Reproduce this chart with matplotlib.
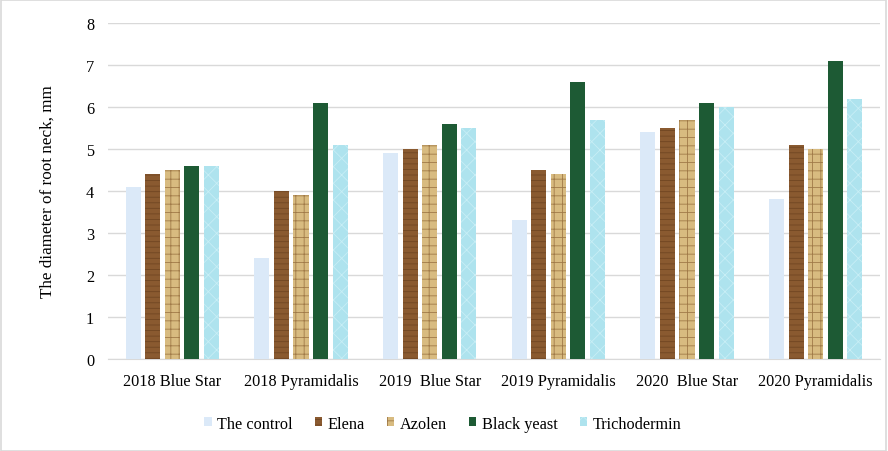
import numpy as np
import matplotlib
matplotlib.use("Agg")
import matplotlib.pyplot as plt
from matplotlib.patches import Rectangle

plt.rcParams['font.family'] = ['Liberation Serif', 'DejaVu Serif']
plt.rcParams['hatch.linewidth'] = 0.6

groups = ['2018 Blue Star', '2018 Pyramidalis', '2019  Blue Star',
          '2019 Pyramidalis', '2020  Blue Star', '2020 Pyramidalis']
series = ['The control', 'Elena', 'Azolen', 'Black yeast', 'Trichodermin']
control = [4.1, 2.4, 4.9, 3.3, 5.4, 3.8]
elena = [4.4, 4.0, 5.0, 4.5, 5.5, 5.1]
azolen = [4.5, 3.9, 5.1, 4.4, 5.7, 5.0]
black_yeast = [4.6, 6.1, 5.6, 6.6, 6.1, 7.1]
trichodermin = [4.6, 5.1, 5.5, 5.7, 6.0, 6.2]
values = [control, elena, azolen, black_yeast, trichodermin]

colors = ['#dbe9f8', '#8a5a30', '#d8bb80', '#1d5a34', '#aee3ee']
hatch_col = ['#eef5fc', '#704622', '#a07a48', '#2a6a42', '#c8eef5']
hatches = [None, '---', '++', None, 'xx']

fig = plt.figure(figsize=(8.88, 4.52), dpi=100)
ax = fig.add_axes([0.1216, 0.2035, 0.8694, 0.7435])

x = np.arange(len(groups))
w = 0.117
pitch = 0.152
for i, (name, vals) in enumerate(zip(series, values)):
    pos = x + (i - 2) * pitch
    bars = ax.bar(pos, vals, w, color=colors[i], label=name, zorder=3,
                  linewidth=0)
    if hatches[i]:
        for b in bars:
            b.set_hatch(hatches[i])
            b.set_edgecolor(hatch_col[i])

ax.set_xlim(-0.5, len(groups) - 0.5)
ax.set_ylim(0, 8)
ax.set_yticks(range(0, 9))
ax.set_xticks(x)
ax.set_xticklabels(groups, fontsize=11.7)
ax.tick_params(axis='y', labelsize=11.7, length=0, pad=10)
ax.tick_params(axis='x', length=0, pad=10)
ax.yaxis.grid(True, color='#d9d9d9', linewidth=1, zorder=0)
for s in ['top', 'right', 'left']:
    ax.spines[s].set_visible(False)
ax.spines['bottom'].set_color('#d9d9d9')
ax.set_ylabel('The diameter of root neck, mm', fontsize=12.3, labelpad=22)

ax.legend(loc='upper center', bbox_to_anchor=(0.434, -0.125), ncol=5,
          frameon=False, fontsize=11.7, handlelength=0.45, handleheight=0.45,
          handletextpad=0.35, columnspacing=1.35)

fig.patches.append(Rectangle((0.001, 0.001), 0.997, 0.997, transform=fig.transFigure,
                             fill=False, edgecolor='#d9d9d9', linewidth=1.2))

fig.savefig('out.png', dpi=100)
